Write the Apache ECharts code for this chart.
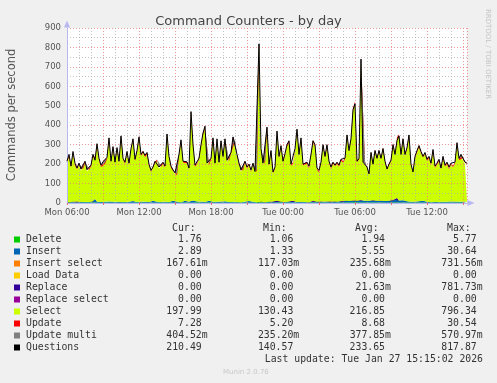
<!DOCTYPE html>
<html><head><meta charset="utf-8">
<script src="https://cdn.jsdelivr.net/npm/echarts@6/dist/echarts.min.js"></script>
<style>html,body{margin:0;padding:0;background:#F0F0F0;}#c{width:497px;height:383px;}</style>
</head><body><div id="c"></div>
<script>
// ---- data (RRD samples shown at 10-minute resolution, starting Mon 06:00) ----
const startHour = 6;          // Mon 06:00
const stepHour = 1 / 6;       // 10 minutes
const tickLabels = ['Mon 06:00', 'Mon 12:00', 'Mon 18:00', 'Tue 00:00', 'Tue 06:00', 'Tue 12:00'];

const questions = [
215,250,190,265,205,180,205,175,180,215,
172,180,195,250,220,305,230,195,212,210,
235,335,215,290,210,285,215,345,230,210,
265,205,280,330,225,270,340,250,265,245,
260,200,168,185,215,225,185,195,210,190,
355,240,190,170,155,150,250,325,215,205,
212,180,470,300,195,205,230,300,360,395,
205,198,230,335,205,330,210,320,240,330,
220,225,260,340,330,250,205,170,175,215,
185,200,170,205,162,170,818,280,205,210,
390,200,270,160,185,370,240,295,215,255,
300,320,200,205,280,380,250,335,200,205,
210,190,250,320,300,180,168,210,300,240,
300,215,185,210,195,210,195,225,215,230,
350,270,330,480,510,215,230,740,210,212,
185,150,260,200,270,230,270,230,280,215,
175,200,220,300,250,320,345,250,330,250,
285,350,200,160,240,270,295,265,240,260,
225,240,205,275,190,205,225,180,240,195,
210,185,205,195,210,310,230,250,240,210,
205];

const select = [
199,233,175,248,189,165,190,160,165,199,
157,165,180,233,204,288,214,180,197,194,
219,318,199,274,194,269,199,328,214,195,
249,190,264,313,209,254,323,234,249,229,
244,185,153,170,199,209,170,180,195,175,
338,224,175,155,141,136,234,309,200,190,
197,165,452,284,180,190,214,284,343,378,
190,183,214,318,190,313,195,304,224,313,
205,210,244,323,313,234,190,155,160,200,
170,185,155,190,148,155,796,263,190,195,
373,185,254,146,170,353,224,279,200,239,
284,303,185,190,264,362,234,318,185,190,
195,175,234,303,284,165,153,195,284,224,
284,200,170,195,180,195,180,209,199,213,
332,253,312,460,490,198,213,718,195,197,
170,136,244,185,254,214,254,214,264,200,
160,185,205,284,234,303,328,234,313,234,
269,333,185,146,224,254,279,249,224,244,
209,224,190,259,175,190,209,165,224,180,
195,170,190,180,195,293,214,234,224,195,
190];

const insert = [
4,3,5,4,3,6,4,3,8,4,
3,4,5,6,18,5,4,3,5,4,
4,6,3,4,9,4,5,3,6,4,
5,4,3,7,4,4,3,5,8,4,
4,3,4,9,3,4,5,4,3,5,
6,4,3,8,4,5,4,3,6,9,
4,5,3,10,4,6,12,5,4,3,
8,10,6,5,9,4,3,5,4,7,
4,3,8,4,5,4,6,3,4,5,
4,7,3,4,5,3,9,4,5,3,
6,4,3,5,4,8,3,4,6,4,
3,5,4,9,4,3,5,4,6,4,
5,3,4,8,4,5,3,6,4,5,
4,6,3,5,9,4,6,8,7,9,
10,8,11,9,12,10,8,9,11,10,
9,11,10,12,9,10,11,9,10,8,
9,10,8,12,14,22,10,9,11,8,
7,5,4,8,5,4,6,3,9,4,
5,4,3,6,4,5,3,7,4,5,
4,3,6,4,5,9,4,3,5,4,
4];

const del = [
2,1,2,2,1,2,1,2,2,1,
2,1,2,3,2,2,1,2,1,2,
2,2,1,2,3,2,1,2,2,1,
2,2,1,3,2,1,2,2,3,2,
1,2,2,3,1,2,2,1,2,2,
2,1,2,3,1,2,2,1,2,3,
2,2,1,3,2,2,4,2,1,2,
3,2,2,1,3,2,1,2,2,2,
1,2,3,2,2,1,2,1,2,2,
2,3,1,2,2,1,5,2,2,1,
2,2,1,2,1,3,2,2,2,1,
2,2,1,3,2,2,1,2,2,1,
2,1,2,3,2,1,1,2,3,2,
2,2,1,2,1,2,2,2,1,2,
3,2,2,3,4,2,2,5,2,2,
2,1,2,2,3,2,2,2,3,2,
1,2,2,3,2,3,3,2,3,2,
2,3,2,1,2,2,3,2,2,2,
2,2,1,2,1,2,2,1,2,1,
2,1,2,1,2,3,2,2,2,2,
2];

const update = [
8,9,7,8,7,6,7,6,6,8,
6,6,7,9,8,10,8,7,7,7,
8,12,7,9,7,9,7,11,8,7,
9,7,9,10,8,9,11,8,9,8,
9,7,6,7,8,8,7,7,8,7,
12,8,7,6,6,5,8,10,7,7,
7,6,14,9,7,7,8,9,11,12,
7,7,8,10,7,10,7,10,8,11,
7,7,8,10,10,8,7,6,6,7,
7,7,6,7,6,6,20,8,7,7,
11,7,8,6,7,11,8,9,7,8,
9,10,7,7,8,11,8,10,7,7,
7,7,8,10,9,6,6,7,9,8,
9,7,6,7,7,7,7,8,7,8,
10,8,10,14,15,8,8,18,7,7,
6,6,8,7,8,8,8,8,9,7,
6,7,7,9,8,10,11,8,10,8,
9,11,7,6,8,8,9,8,8,8,
7,8,7,9,6,7,8,6,8,7,
7,6,7,7,7,10,8,8,8,7,
7];

const updateMulti = [
.4,.5,.3,.4,.3,.4,.3,.3,.4,.4,
.3,.3,.4,.4,.4,.5,.4,.3,.4,.3,
.4,.5,.4,.4,.3,.4,.4,.5,.4,.3,
.4,.3,.4,.5,.4,.4,.5,.4,.4,.4,
.4,.3,.3,.3,.4,.4,.3,.3,.4,.3,
.5,.4,.3,.3,.3,.3,.4,.5,.4,.3,
.4,.3,.5,.4,.3,.3,.4,.4,.5,.5,
.3,.3,.4,.5,.3,.5,.4,.5,.4,.5,
.4,.4,.4,.5,.5,.4,.3,.3,.3,.4,
.3,.3,.3,.4,.3,.3,.6,.4,.3,.3,
.5,.3,.4,.3,.3,.5,.4,.4,.3,.4,
.4,.5,.3,.3,.4,.5,.4,.5,.3,.3,
.3,.3,.4,.5,.4,.3,.3,.3,.4,.4,
.4,.3,.3,.3,.3,.3,.3,.4,.3,.4,
.5,.4,.5,.6,.6,.4,.4,.6,.3,.3,
.3,.3,.4,.3,.4,.4,.4,.4,.4,.3,
.3,.3,.4,.4,.4,.5,.5,.4,.5,.4,
.4,.5,.3,.3,.4,.4,.4,.4,.4,.4,
.4,.4,.3,.4,.3,.3,.4,.3,.4,.3,
.3,.3,.3,.3,.4,.5,.4,.4,.4,.4,
.4];

const insertSelect = [
.2,.2,.2,.3,.2,.2,.2,.2,.2,.2,
.2,.2,.2,.2,.3,.2,.2,.2,.2,.2,
.2,.3,.2,.2,.2,.2,.2,.3,.2,.2,
.2,.2,.2,.3,.2,.2,.3,.2,.2,.2,
.2,.2,.1,.2,.2,.2,.2,.2,.2,.2,
.3,.2,.2,.2,.1,.1,.2,.3,.2,.2,
.2,.2,.4,.2,.2,.2,.2,.2,.3,.3,
.2,.2,.2,.3,.2,.3,.2,.3,.2,.3,
.2,.2,.2,.3,.3,.2,.2,.2,.2,.2,
.2,.2,.2,.2,.2,.2,.7,.2,.2,.2,
.3,.2,.2,.1,.2,.3,.2,.3,.2,.2,
.2,.3,.2,.2,.2,.3,.2,.3,.2,.2,
.2,.2,.2,.3,.2,.2,.1,.2,.2,.2,
.2,.2,.2,.2,.2,.2,.2,.2,.2,.2,
.3,.2,.3,.4,.5,.2,.2,.6,.2,.2,
.2,.1,.2,.2,.2,.2,.2,.2,.2,.2,
.2,.2,.2,.3,.2,.3,.3,.2,.3,.2,
.2,.3,.2,.1,.2,.2,.2,.2,.2,.2,
.2,.2,.2,.2,.2,.2,.2,.2,.2,.2,
.2,.2,.2,.2,.2,.3,.2,.2,.2,.2,
.2];

const replace = [
0,0,0,0,0,0,0,0,0,0, 0,0,0,0,0,0,0,0,0,0,
0,0,0,0,0,0,0,0,0,0, 0,0,0,0,0,0,0,0,0,0,
0,0,0,0,0,0,0,0,0,0, 0,0,0,0,0,0,0,0,0,0,
0,0,.8,0,0,0,0,0,0,0, 0,0,0,0,0,0,0,0,0,0,
0,0,0,0,0,0,0,0,0,0, 0,0,0,0,0,0,.7,0,0,0,
0,0,0,0,0,0,0,0,0,0, 0,0,0,0,0,0,0,0,0,0,
0,0,0,0,0,0,0,0,0,0, 0,0,0,0,0,0,0,0,0,0,
0,0,0,.6,.7,0,0,.8,0,0, 0,0,0,0,0,0,0,0,0,0,
0,0,0,0,0,0,0,0,0,0, 0,0,0,0,0,0,0,0,0,0,
0,0,0,0,0,0,0,0,0,0, 0,0,0,0,0,0,0,0,0,0,
0];

// ---- legend table ----
const legendNames = ['Delete','Insert','Insert select','Load Data','Replace','Replace select','Select','Update','Update multi','Questions'];
const legendColors = ['#00CC00','#0066B3','#FF8000','#FFCC00','#330099','#990099','#CCFF00','#FF0000','#808080','#000000'];
const curVals = ['1.76','2.89','167.61m','0.00','0.00','0.00','197.99','7.28','404.52m','210.49'];
const minVals = ['1.06','1.33','117.03m','0.00','0.00','0.00','130.43','5.20','235.20m','140.57'];
const avgVals = ['1.94','5.55','235.68m','0.00','21.63m','0.00','216.85','8.68','377.85m','233.65'];
const maxVals = ['5.77','30.64','731.56m','0.00','781.73m','0.00','796.34','30.54','570.97m','817.87'];
const lastUpdate = 'Last update: Tue Jan 27 15:15:02 2026';

// ---- chart ----
const chart = echarts.init(document.getElementById('c'), null, {renderer: 'canvas'});
const sampleIdx = questions.map((_, i) => i);

function stackArea(name, color, vals) {
  return {
    name, type: 'line', stack: 'cmd', xAxisIndex: 1, data: vals, showSymbol: false, silent: true,
    lineStyle: {width: 0, opacity: 0}, areaStyle: {color, opacity: 1}, itemStyle: {color},
    z: 2, animation: false
  };
}

const sans = 'DejaVu Sans';
const txtCol = '#333';
const graphics = [];

graphics.push({type: 'text', x: 12, y: 115, rotation: Math.PI / 2,
  style: {text: 'Commands per second', font: '11.5px "DejaVu Sans"', fill: '#555', align: 'center', verticalAlign: 'middle'}});
graphics.push({type: 'text', x: 488, y: 54, rotation: -Math.PI / 2,
  style: {text: 'RRDTOOL / TOBI OETIKER', font: '7px "DejaVu Sans"', fill: '#C4C4C4', align: 'center', verticalAlign: 'middle'}});

const headerX = [172, 263, 355, 447];
['Cur:', 'Min:', 'Avg:', 'Max:'].forEach((h, k) => graphics.push({type: 'text', x: headerX[k], y: 228,
  style: {text: h, font: '9.8px "DejaVu Sans Mono"', fill: txtCol, align: 'left', verticalAlign: 'middle'}}));

const colEnd = [201.7, 293.3, 385, 476.7];
const charW = 5.92;
legendNames.forEach((n, r) => {
  const y = 239.5 + r * 12;
  graphics.push({type: 'rect', shape: {x: 14, y: y - 3, width: 6, height: 6}, style: {fill: legendColors[r]}});
  graphics.push({type: 'text', x: 26, y, style: {text: n, font: '9.8px "DejaVu Sans Mono"', fill: txtCol, align: 'left', verticalAlign: 'middle'}});
  [curVals, minVals, avgVals, maxVals].forEach((col, k) => {
    const s = col[r];
    const end = s.endsWith('m') ? colEnd[k] + charW : colEnd[k];
    graphics.push({type: 'text', x: end, y, style: {text: s, font: '9.8px "DejaVu Sans Mono"', fill: txtCol, align: 'right', verticalAlign: 'middle'}});
  });
});
graphics.push({type: 'text', x: 483, y: 359, style: {text: lastUpdate, font: '9.8px "DejaVu Sans Mono"', fill: txtCol, align: 'right', verticalAlign: 'middle'}});
graphics.push({type: 'text', x: 223, y: 372, style: {text: 'Munin 2.0.76', font: '7px "DejaVu Sans"', fill: '#C8C8C8', align: 'left', verticalAlign: 'middle'}});

const majorGrid = {show: true, lineStyle: {color: 'rgba(235,120,120,0.75)', width: 1, type: [1, 2]}};
const minorGrid = {show: true, lineStyle: {color: 'rgba(170,170,170,0.7)', width: 1, type: [1, 2]}};
const axisCol = '#B8B8F0';

chart.setOption({
  backgroundColor: '#F0F0F0',
  animation: false,
  title: {text: 'Command Counters - by day', left: 'center', top: 10,
    textStyle: {fontFamily: sans, fontSize: 13, fontWeight: 'normal', color: '#444'}},
  grid: {left: 67, right: 30, top: 28, bottom: 180, show: true, backgroundColor: '#FFFFFF', borderWidth: 0},
  xAxis: [{
    type: 'value', min: startHour, max: startHour + (questions.length - 1) * stepHour, interval: 3, z: 3,
    axisLine: {show: true, lineStyle: {color: axisCol, width: 1}, symbol: ['none', 'triangle'], symbolSize: [6, 7], symbolOffset: [0, 4]},
    axisTick: {show: true, length: 2, lineStyle: {color: '#E07070'}},
    minorTick: {show: false, splitNumber: 3},
    splitLine: majorGrid,
    minorSplitLine: minorGrid,
    axisLabel: {
      color: '#555', fontFamily: sans, fontSize: 8.5, margin: 5, showMaxLabel: false,
      formatter: v => { const k = (v - startHour) / 6; return Math.abs(k - Math.round(k)) < 1e-6 ? (tickLabels[Math.round(k)] || '') : ''; }
    }
  }, {
    type: 'category', data: sampleIdx, boundaryGap: false, show: false, z: 0
  }],
  yAxis: {
    type: 'value', min: 0, max: 900, interval: 100, z: 3,
    axisLine: {show: true, lineStyle: {color: axisCol, width: 1}, symbol: ['none', 'triangle'], symbolSize: [6, 7], symbolOffset: [0, 4]},
    axisTick: {show: false},
    minorTick: {show: false, splitNumber: 2},
    splitLine: majorGrid,
    minorSplitLine: minorGrid,
    axisLabel: {color: '#555', fontFamily: sans, fontSize: 8.5, margin: 6}
  },
  series: [
    stackArea('Delete', legendColors[0], del),
    stackArea('Insert', legendColors[1], insert),
    stackArea('Insert select', legendColors[2], insertSelect),
    stackArea('Replace', legendColors[4], replace),
    stackArea('Select', legendColors[6], select),
    stackArea('Update', legendColors[7], update),
    stackArea('Update multi', legendColors[8], updateMulti),
    {name: 'Questions', type: 'line', xAxisIndex: 1, data: questions, showSymbol: false, silent: true,
      lineStyle: {color: '#000', width: 1}, itemStyle: {color: '#000'}, z: 4, animation: false}
  ],
  graphic: graphics
});
</script>
</body></html>
